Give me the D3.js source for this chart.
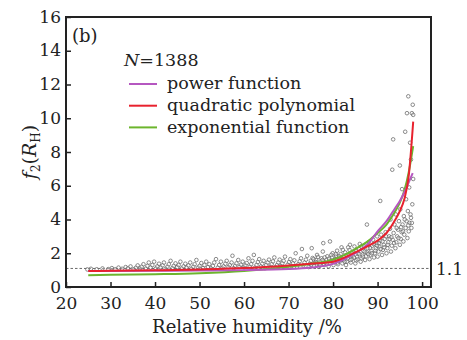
<!DOCTYPE html>
<html>
<head>
<meta charset="utf-8">
<script src="https://cdn.jsdelivr.net/npm/d3@7"></script>
<style>
  body { margin: 0; background: #fff; }
  svg { font-family: "DejaVu Serif", serif; }
</style>
</head>
<body>
<div id="chart"></div>
<script>
// plot box
const W = 467, H = 340;
const plot = {left: 66, right: 431, top: 17, bottom: 287};

// axis ticks
const xTicks = [20, 30, 40, 50, 60, 70, 80, 90, 100];
const yTicks = [0, 2, 4, 6, 8, 10, 12, 14, 16];
const threshold = 1.1;

// fitted curves
const curveRH = [25, 30, 40, 50, 60, 70, 75, 80, 85, 88, 90, 92, 94, 95, 96, 97, 98];
const powerFn = [0.95, 0.95, 0.96, 0.98, 1.0, 1.06, 1.15, 1.37, 2.0, 2.6, 3.3, 3.9, 4.7, 5.1, 5.6, 6.2, 6.75];
const quadPoly = [0.95, 0.96, 0.99, 1.04, 1.12, 1.28, 1.38, 1.5, 2.05, 2.45, 2.75, 3.2, 4.0, 4.5, 5.2, 6.6, 9.8];
const expFn = [0.70, 0.72, 0.76, 0.82, 0.95, 1.2, 1.38, 1.62, 2.25, 2.75, 3.2, 3.7, 4.5, 5.0, 5.7, 6.8, 8.35];

const seriesNames = ["power function", "quadratic polynomial", "exponential function"];
const seriesColors = ["#b557c0", "#e8222e", "#6cb52d"];

// observations [RH, f2]
const scatter = [
  [24.8,1.04],[25.6,1.08],[26.9,1.05],[28.2,1.1],[29.5,1.06],[30.3,1.12],[31.1,1.05],[31.8,1.15],
  [32.6,1.08],[33.4,1.18],[33.9,1.1],[34.5,1.22],[35.2,1.05],[35.7,1.14],
  [36.1,1.28],[36.6,1.1],[37.0,1.2],[37.4,1.35],[37.9,1.08],[38.3,1.25],[38.6,1.45],[39.0,1.15],
  [39.4,1.3],[39.8,1.5],[40.2,1.1],[40.5,1.22],[40.9,1.38],[41.3,1.15],[41.7,1.28],[42.0,1.45],
  [42.4,1.08],[42.8,1.2],[43.1,1.35],[43.5,1.55],[43.9,1.12],[44.2,1.25],[44.6,1.4],[45.0,1.18],
  [45.3,1.3],[45.7,1.5],[46.0,1.1],[46.4,1.22],[46.8,1.38],[47.1,1.15],[47.5,1.28],[47.9,1.45],
  [48.2,1.08],[48.6,1.2],[48.9,1.35],[49.3,1.6],[49.7,1.15],[50.0,1.25],[50.4,1.42],[50.8,1.12],
  [51.1,1.3],[51.5,1.5],[51.9,1.18],[52.2,1.35],[52.6,1.1],[53.0,1.25],[53.3,1.45],[53.7,1.65],
  [54.1,1.15],[54.4,1.3],[54.8,1.5],
  [55.1,1.12],[55.4,1.22],[55.8,1.38],[56.1,1.55],[56.5,1.18],[56.8,1.3],[57.2,1.45],[57.4,1.85],
  [57.7,1.12],[58.0,1.25],[58.3,1.4],[58.7,1.6],[59.0,1.2],[59.3,1.32],[59.7,1.5],[60.0,1.15],
  [60.3,1.28],[60.6,1.42],[61.0,1.7],[61.3,1.2],[61.6,1.35],[61.9,1.55],[62.2,1.9],[62.5,1.15],
  [62.8,1.3],[63.1,1.48],[63.4,1.65],[63.8,1.22],[64.1,1.38],[64.4,1.55],[64.7,1.12],
  [65.0,1.3],[65.3,1.45],[65.6,1.62],[65.9,1.2],[66.2,1.35],[66.5,1.52],[66.8,1.75],[67.1,1.18],
  [67.4,1.3],[67.7,1.45],[68.0,1.62],[68.3,1.25],[68.6,1.4],[68.9,1.55],[69.2,1.8],[69.5,1.15],
  [69.8,1.32],[70.1,1.48],[70.4,1.65],[70.7,1.25],[71.0,1.4],[71.3,1.58],[71.6,2.0],[71.9,1.2],
  [72.2,1.35],[72.5,1.52],[72.8,1.7],[73.0,2.25],[73.3,1.28],[73.6,1.45],[73.9,1.62],[74.2,1.85],
  [74.5,1.18],[74.8,1.38],
  [75.0,1.55],[75.2,2.3],[75.4,1.72],[75.7,1.25],[75.9,1.42],[76.2,1.6],[76.4,1.9],[76.7,1.2],
  [76.9,1.35],[77.2,1.52],[77.4,1.7],[77.7,2.1],[77.8,2.6],[78.0,1.3],[78.2,1.45],[78.5,1.62],
  [78.7,1.82],[79.0,1.22],[79.2,1.4],[79.3,2.7],[79.5,1.58],[79.7,1.75],[79.9,2.0],
  [80.1,1.3],[80.3,1.48],[80.5,1.65],[80.7,1.85],[80.9,2.15],[81.1,1.35],[81.3,1.55],[81.5,1.72],
  [81.7,1.95],[81.9,2.35],[82.1,1.4],[82.3,1.6],[82.5,1.8],[82.7,2.05],[82.9,1.3],[83.1,1.5],
  [83.3,1.7],[83.5,1.9],[83.7,2.2],[83.8,2.5],[84.0,1.45],[84.2,1.65],[84.4,1.85],[84.6,2.1],
  [84.8,2.4],
  [85.0,1.4],[85.2,1.58],[85.4,1.78],[85.6,2.0],[85.8,2.25],[86.0,2.55],[86.2,1.5],[86.4,1.7],
  [86.6,1.92],[86.8,2.15],[87.0,2.4],[87.2,1.6],[87.4,1.82],[87.6,2.05],[87.6,3.7],[87.8,2.3],
  [88.0,2.65],[88.2,1.65],[88.4,1.9],[88.6,2.15],[88.8,2.45],[89.0,2.8],[89.2,1.75],[89.4,2.0],
  [89.6,2.3],[89.8,2.6],[89.9,3.0],
  [90.0,1.8],[90.2,2.1],[90.4,2.4],[90.6,2.75],[90.6,5.1],[90.8,3.1],[91.0,1.9],[91.2,2.2],
  [91.4,2.5],[91.6,2.85],[91.8,3.25],[92.0,2.0],[92.2,2.3],[92.4,2.65],[92.6,3.0],[92.8,3.45],
  [92.9,4.0],
  [93.0,2.1],[93.2,2.45],[93.3,6.95],[93.4,2.8],[93.5,8.75],[93.6,3.2],[93.8,3.7],[94.0,2.3],
  [94.1,4.3],[94.2,2.65],[94.4,3.0],[94.6,3.4],[94.8,3.9],[95.0,2.5],[95.0,7.2],[95.1,4.6],
  [95.2,2.85],[95.4,3.25],[95.5,5.8],[95.6,3.7],[95.8,2.7],[95.9,4.2],[96.0,3.1],[96.2,9.2],
  [96.3,3.5],[96.4,5.2],[96.5,3.9],[96.6,10.3],[96.7,2.9],[96.8,4.5],[96.9,11.3],[97.0,3.3],
  [97.1,5.9],[97.2,3.8],[97.3,8.55],[97.4,4.3],[97.5,7.55],[97.6,3.5],[97.7,10.3],[97.8,4.9],
  [97.9,10.8],[98.0,10.2],[98.0,6.4],
  [75.1,1.32],[75.6,1.65],[76.1,1.48],[76.6,1.78],[77.1,1.28],[77.6,1.6],[78.1,1.75],[78.6,1.38],
  [79.1,1.68],[79.6,1.9],[80.2,1.58],[80.6,1.95],[81.0,1.45],[81.4,1.82],[81.8,1.62],[82.2,2.2],
  [82.6,1.5],[83.0,1.88],[83.4,2.35],[83.9,1.6],[84.3,2.0],[84.7,1.75],[85.1,2.15],[85.5,1.65],
  [85.9,1.95],[86.3,2.4],[86.7,1.8],[87.1,2.1],[87.5,2.55],[87.9,1.95],[88.3,2.3],[88.7,2.0],
  [89.1,2.55],[89.5,2.15],[89.9,2.45],[90.3,2.6],[90.7,2.25],[91.1,2.7],[91.5,2.35],[91.9,3.0],
  [92.3,2.5],[92.7,2.85],[93.1,2.95],[93.7,2.6],[94.3,3.5],[94.7,2.9],[95.3,3.55],[95.7,3.3],
  [96.1,4.0],[96.9,3.65],[97.5,4.1],[97.7,3.8]
];

const svg = d3.select("#chart").append("svg")
    .attr("width", W)
    .attr("height", H);

const x = d3.scaleLinear().domain([20, 102]).range([plot.left, plot.right]);
const y = d3.scaleLinear().domain([0, 16]).range([plot.bottom, plot.top]);

// threshold line
svg.append("line")
    .attr("x1", plot.left).attr("x2", plot.right)
    .attr("y1", y(threshold)).attr("y2", y(threshold))
    .attr("stroke", "#444").attr("stroke-width", 0.8)
    .attr("stroke-dasharray", "2.5,2");

svg.append("text")
    .attr("x", plot.right + 5).attr("y", y(threshold))
    .attr("dy", "0.36em")
    .attr("font-size", 17).attr("fill", "#222")
    .text(threshold);

// scatter points
svg.append("g").selectAll("circle")
    .data(scatter)
    .join("circle")
    .attr("cx", d => x(d[0]))
    .attr("cy", d => y(d[1]))
    .attr("r", 1.8)
    .attr("fill", "#fff")
    .attr("fill-opacity", 0.3)
    .attr("stroke", "#666")
    .attr("stroke-width", 0.75);

// fitted curves
const fits = [powerFn, quadPoly, expFn];
const line = d3.line()
    .x(d => x(d[0]))
    .y(d => y(d[1]))
    .curve(d3.curveMonotoneX);

// draw order: green, purple, red on top
[2, 0, 1].forEach(i => {
    svg.append("path")
        .datum(curveRH.map((rh, j) => [i === 0 && rh === 98 ? 97.9 : rh, fits[i][j]]))
        .attr("fill", "none")
        .attr("stroke", seriesColors[i])
        .attr("stroke-width", 2)
        .attr("d", line);
});

// axes
const xAxis = svg.append("g")
    .attr("transform", "translate(0," + plot.bottom + ")")
    .call(d3.axisBottom(x).tickValues(xTicks).tickSizeInner(-5).tickSizeOuter(0).tickPadding(10));
const yAxis = svg.append("g")
    .attr("transform", "translate(" + plot.left + ",0)")
    .call(d3.axisLeft(y).tickValues(yTicks).tickSizeInner(-5).tickSizeOuter(0).tickPadding(5));

[xAxis, yAxis].forEach(g => {
    g.select(".domain").remove();
    g.selectAll(".tick line").attr("stroke", "#222").attr("stroke-width", 1.5);
    g.selectAll(".tick text").attr("font-size", 17).attr("fill", "#222")
        .attr("font-family", "DejaVu Serif");
});
yAxis.selectAll(".tick text").attr("dy", "0.3em");

// frame
svg.append("rect")
    .attr("x", plot.left).attr("y", plot.top)
    .attr("width", plot.right - plot.left)
    .attr("height", plot.bottom - plot.top)
    .attr("fill", "none")
    .attr("stroke", "#222")
    .attr("stroke-width", 2);

// axis titles
svg.append("text")
    .attr("x", 247).attr("y", 333)
    .attr("text-anchor", "middle")
    .attr("font-size", 18).attr("fill", "#222")
    .text("Relative humidity /%");

const yt = svg.append("text")
    .attr("transform", "translate(36," + ((plot.top + plot.bottom) / 2) + ") rotate(-90)")
    .attr("text-anchor", "middle")
    .attr("font-size", 19).attr("fill", "#222");
yt.append("tspan").attr("font-style", "italic").text("f");
yt.append("tspan").attr("font-size", 12).attr("dy", 4).text("2");
yt.append("tspan").attr("dy", -4).text("(");
yt.append("tspan").attr("font-style", "italic").text("R");
yt.append("tspan").attr("font-size", 12).attr("dy", 4).text("H");
yt.append("tspan").attr("dy", -4).text(")");

// panel label
svg.append("text")
    .attr("x", 72).attr("y", 42)
    .attr("font-size", 18).attr("fill", "#222")
    .text("(b)");

// legend
const nLabel = svg.append("text")
    .attr("x", 124).attr("y", 66)
    .attr("font-size", 17.5).attr("fill", "#222");
nLabel.append("tspan").attr("font-style", "italic").text("N");
nLabel.append("tspan").text("=1388");

const legend = svg.append("g").selectAll("g")
    .data(seriesNames)
    .join("g")
    .attr("transform", (d, i) => "translate(0," + (84 + i * 21.7) + ")");

legend.append("line")
    .attr("x1", 129).attr("x2", 157)
    .attr("stroke", (d, i) => seriesColors[i])
    .attr("stroke-width", 2);

legend.append("text")
    .attr("x", 167).attr("dy", "0.3em")
    .attr("font-size", 17.5).attr("fill", "#222")
    .text(d => d);
</script>
</body>
</html>
